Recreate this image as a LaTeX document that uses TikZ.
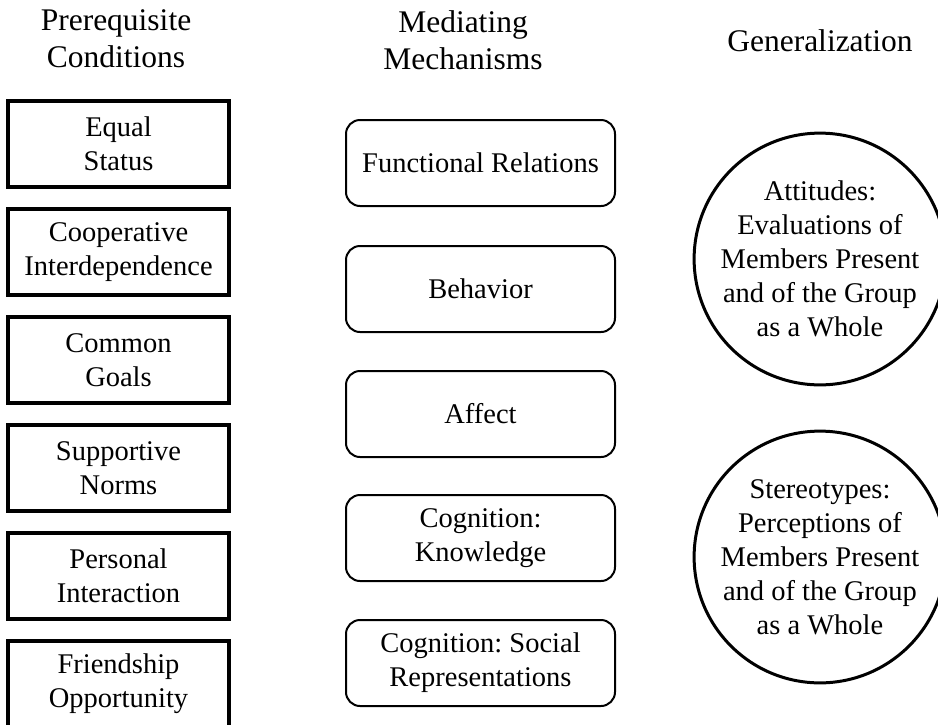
\documentclass[tikz,border=0pt]{standalone}
\usepackage{fontspec}
\setmainfont{Liberation Serif}
\frenchspacing
\begin{document}
\begin{tikzpicture}[x=1pt,y=-1pt,
  body/.style={font=\fontsize{28.5}{34}\selectfont, align=center, inner sep=0pt},
  head/.style={font=\fontsize{31.5}{37}\selectfont, align=center, inner sep=0pt},
  condbox/.style={body, draw, line width=4pt, minimum width=221pt, minimum height=86pt},
  mechbox/.style={body, draw, line width=2pt, rounded corners=14pt, minimum width=269pt, minimum height=86pt},
  genbox/.style={body, draw, circle, line width=3pt, minimum size=241pt}]
\useasboundingbox (0,0) rectangle (938,724);
\fill[white] (0,0) rectangle (938,724);
% headers
\node[head] (h1) at (116,39) {Prerequisite\\Conditions};
\node[head] (h2) at (463,40) {Mediating\\Mechanisms};
\node[head] (h3) at (820,41) {Generalization};
% prerequisite conditions
\node[condbox] (c1) at (118.5,144) {Equal\\Status};
\node[condbox] (c2) at (118.5,252) {Cooperative\\Interdependence};
\node[condbox] (c3) at (118.5,360) {Common\\Goals};
\node[condbox] (c4) at (118.5,468) {Supportive\\Norms};
\node[condbox] (c5) at (118.5,576) {Personal\\Interaction};
\node[condbox] (c6) at (118.5,684) {Friendship\\Opportunity};
% mediating mechanisms
\node[mechbox] (m1) at (480.5,163) {Functional Relations};
\node[mechbox] (m2) at (480.5,289) {Behavior};
\node[mechbox] (m3) at (480.5,414) {Affect};
\node[mechbox] (m4) at (480.5,538) {Cognition:\\Knowledge};
\node[mechbox] (m5) at (480.5,663) {Cognition: Social\\Representations};
% generalization
\node[genbox] (g1) at (820,259) {Attitudes:\\Evaluations of\\Members Present\\and of the Group\\as a Whole};
\node[genbox] (g2) at (820,557) {Stereotypes:\\Perceptions of\\Members Present\\and of the Group\\as a Whole};
\end{tikzpicture}
\end{document}
